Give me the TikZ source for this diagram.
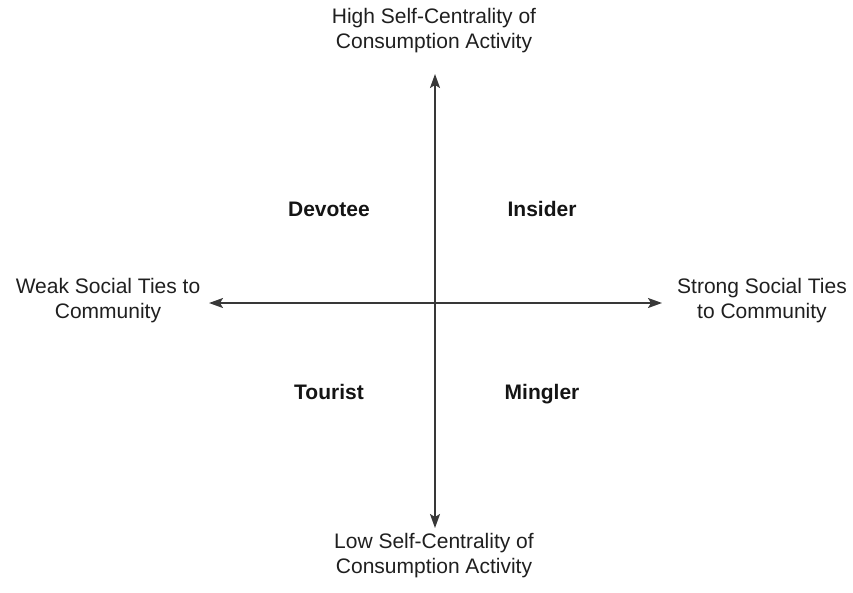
\documentclass[tikz,border=0pt]{standalone}
\usepackage{fontspec}
\setmainfont{Liberation Sans}
\usetikzlibrary{arrows.meta}
\begin{document}
\begin{tikzpicture}[x=1pt,y=-1pt,
  tip/.style={Stealth[length=14pt,width=10pt,inset=3pt]},
  axis/.style={draw=black!78, line width=1.8pt, {Stealth[length=14pt,width=10pt,inset=3pt]}-{Stealth[length=14pt,width=10pt,inset=3pt]}},
  pole/.style={align=center, text=black!88, font=\fontsize{21}{25}\selectfont, inner sep=0pt},
  quad/.style={text=black!92, font=\fontsize{21}{25}\selectfont\bfseries, inner sep=0pt, text height=15pt, text depth=0pt}]
  \useasboundingbox (0,0) rectangle (853,592);
  % axis end points
  \coordinate (top) at (435,74);
  \coordinate (bottom) at (435,528);
  \coordinate (left) at (209,303);
  \coordinate (right) at (662,303);
  % axes
  \draw[axis] (bottom) -- (top);
  \draw[axis] (left) -- (right);
  % pole labels
  \node[pole] (high) at (434,31) {High Self-Centrality of\\Consumption Activity};
  \node[pole] (low) at (434,556) {Low Self-Centrality of\\Consumption Activity};
  \node[pole] (weak) at (108,301) {Weak Social Ties to\\Community};
  \node[pole] (strong) at (762,301) {Strong Social Ties\\to Community};
  % quadrant names
  \node[quad] (devotee) at (329,209) {Devotee};
  \node[quad] (insider) at (542,209) {Insider};
  \node[quad] (tourist) at (329,392) {Tourist};
  \node[quad] (mingler) at (542,392) {Mingler};
\end{tikzpicture}
\end{document}
